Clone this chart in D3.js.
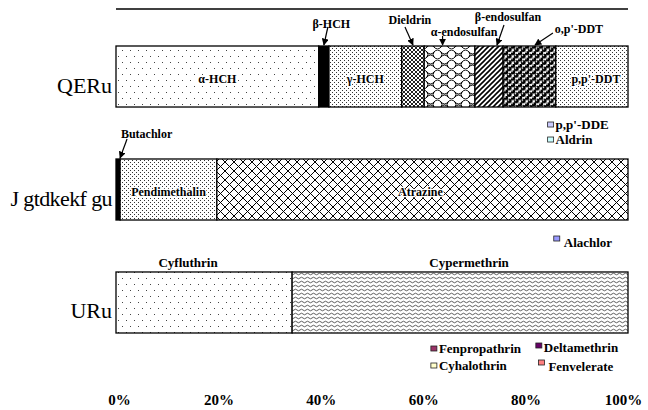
<!DOCTYPE html>
<html><head><meta charset="utf-8">
<script src="https://cdn.jsdelivr.net/npm/d3@7"></script>
<style>
html,body{margin:0;padding:0;background:#fff;}
svg{display:block;font-family:"Liberation Serif","Times New Roman",serif;}
</style></head>
<body>
<svg id="chart" width="648" height="410"></svg>
<script>
// ---- data ----
const categories = ["QERu", "J gtdkekf gu", "URu"];
const ocpNames  = ["α-HCH","β-HCH","γ-HCH","Dieldrin","α-endosulfan","β-endosulfan","o,p'-DDT","p,p'-DDT","p,p'-DDE","Aldrin"];
const ocpValues = [39.6, 2.0, 14.2, 4.4, 9.9, 5.5, 10.3, 14.1, 0, 0];
const herbNames  = ["Butachlor","Pendimethalin","Atrazine","Alachlor"];
const herbValues = [0.8, 18.9, 80.3, 0];
const spNames  = ["Cyfluthrin","Cypermethrin","Fenpropathrin","Deltamethrin","Cyhalothrin","Fenvelerate"];
const spValues = [34.4, 65.6, 0, 0, 0, 0];
const tickValues = [0, 20, 40, 60, 80, 100];
const tickLabels = ["0%","20%","40%","60%","80%","100%"];

// ---- styles (fills) ----
const fills = {
  "α-HCH":"url(#pSparse)","β-HCH":"#000","γ-HCH":"url(#pDense)","Dieldrin":"url(#pCheck)",
  "α-endosulfan":"url(#pScale)","β-endosulfan":"url(#pDiag)","o,p'-DDT":"url(#pBalls)","p,p'-DDT":"url(#pDense)",
  "p,p'-DDE":"#ccccff","Aldrin":"#ccffff",
  "Butachlor":"#000","Pendimethalin":"url(#pDense)","Atrazine":"url(#pDiamond)","Alachlor":"#9999ff",
  "Cyfluthrin":"url(#pSparse)","Cypermethrin":"url(#pWave)",
  "Fenpropathrin":"#993366","Deltamethrin":"#660066","Cyhalothrin":"#ffffcc","Fenvelerate":"#ff8080"
};

const svg = d3.select("#chart");
const defs = svg.append("defs");
function pat(id,w,h){ const p=defs.append("pattern").attr("id",id).attr("patternUnits","userSpaceOnUse").attr("width",w).attr("height",h);
  p.append("rect").attr("width",w).attr("height",h).attr("fill","#fff"); return p; }
let p;
p = pat("pSparse",8,12);
p.append("rect").attr("x",2).attr("y",2).attr("width",1).attr("height",1).attr("fill","#444");
p.append("rect").attr("x",6).attr("y",8).attr("width",1).attr("height",1).attr("fill","#444");
p = pat("pDense",4,4);
p.append("rect").attr("x",0).attr("y",0).attr("width",1).attr("height",1).attr("fill","#333");
p.append("rect").attr("x",2).attr("y",2).attr("width",1).attr("height",1).attr("fill","#333");
p = pat("pCheck",4,4);
p.append("path").attr("d","M0,0L4,4M4,0L0,4").attr("stroke","#222").attr("stroke-width",1);
p = pat("pDiag",5,5);
p.append("path").attr("d","M-1,1L1,-1M0,5L5,0M4,6L6,4").attr("stroke","#000").attr("stroke-width",1.6);
p = pat("pDiamond",9,9);
p.append("path").attr("d","M0,0L9,9M9,0L0,9").attr("stroke","#000").attr("stroke-width",1);
p = pat("pWave",6,4);
p.append("path").attr("d","M0,2q1.5,-1.6 3,0t3,0").attr("stroke","#333").attr("stroke-width",0.8).attr("fill","none");
p = pat("pScale",14,10);
p.append("path").attr("d","M0,2q3.5,-4 7,0t7,0M-7,7q3.5,-4 7,0t7,0t7,0M0,2q-2,2.5 0,5M7,2q2,2.5 0,5M14,2q-2,2.5 0,5")
  .attr("stroke","#000").attr("stroke-width",1).attr("fill","none");
p = pat("pBalls",7,6.4);
[[1.75,1.6],[5.25,4.8]].forEach(([cx,cy])=>{
  p.append("circle").attr("cx",cx).attr("cy",cy).attr("r",2.4).attr("fill","#000");
  p.append("circle").attr("cx",cx-0.8).attr("cy",cy-0.8).attr("r",0.8).attr("fill","#fff");
});
p.append("circle").attr("cx",5.25).attr("cy",-1.6).attr("r",2.4).attr("fill","#000");
p.append("circle").attr("cx",-1.75).attr("cy",4.8).attr("r",2.4).attr("fill","#000");
p.append("circle").attr("cx",8.75).attr("cy",4.8).attr("r",2.4).attr("fill","#000");
defs.append("marker").attr("id","arrow").attr("viewBox","0 0 10 10").attr("refX",9).attr("refY",5)
  .attr("markerWidth",7).attr("markerHeight",7).attr("markerUnits","userSpaceOnUse").attr("orient","auto")
  .append("path").attr("d","M0,0L10,5L0,10z").attr("fill","#000");

// ---- scales ----
const x = d3.scaleLinear().domain([0,100]).range([116,628]);
const y = d3.scaleBand().domain(categories).range([46,333]).paddingInner(0.46).paddingOuter(0);
const bw = y.bandwidth();

// top border line
svg.append("line").attr("x1",x(0)).attr("x2",x(100)).attr("y1",9).attr("y2",9).attr("stroke","#000").attr("stroke-width",1.5);

const groups = [
  {cat:categories[0], names:ocpNames, values:ocpValues},
  {cat:categories[1], names:herbNames, values:herbValues},
  {cat:categories[2], names:spNames, values:spValues}
];
groups.forEach(g=>{
  let acc=0;
  g.segs = g.names.map((n,i)=>{ const s={name:n,v:g.values[i],x0:acc,x1:acc+g.values[i]}; acc+=g.values[i]; return s; });
  const gg = svg.append("g");
  gg.selectAll("rect").data(g.segs.filter(s=>s.v>0)).join("rect")
    .attr("x",d=>x(d.x0)).attr("width",d=>x(d.x1)-x(d.x0))
    .attr("y",y(g.cat)).attr("height",bw)
    .attr("fill",d=>fills[d.name]).attr("stroke","#000").attr("stroke-width",1.3);
  // category label
  svg.append("text").attr("x",112).attr("y",y(g.cat)+bw/2+16).attr("text-anchor","end")
    .attr("font-size",22).attr("letter-spacing",g.cat.length>6?-0.6:0).text(g.cat);
});

function seg(gi,name){ return groups[gi].segs.find(s=>s.name===name); }
function mid(s){ return (x(s.x0)+x(s.x1))/2; }

// labels inside bars
const inside = [[0,"α-HCH",0],[0,"γ-HCH",0],[0,"p,p'-DDT",4],[1,"Pendimethalin",0],[1,"Atrazine",-2]];
inside.forEach(([gi,n,dx])=>{
  const s=seg(gi,n);
  svg.append("text").attr("x",mid(s)+dx).attr("y",y(groups[gi].cat)+bw/2+2).attr("dy","0.35em")
    .attr("text-anchor","middle").attr("font-size",12).attr("font-weight","bold").attr("fill","#000")
    .attr("stroke","#fff").attr("stroke-width",2.5).attr("stroke-linejoin","round").attr("paint-order","stroke").text(n);
});
// labels above bar (SPs)
[[2,"Cyfluthrin",-16],[2,"Cypermethrin",9]].forEach(([gi,n,dx])=>{
  const s=seg(gi,n);
  svg.append("text").attr("x",mid(s)+dx).attr("y",y(groups[gi].cat)-10).attr("dy","0.35em")
    .attr("text-anchor","middle").attr("font-size",13).attr("font-weight","bold").text(n);
});
// arrow annotations: [group, name, text dx, text dy(from bar top), arrow start dx, start dy, arrow end dx]
const ann = [
  [0,"β-HCH",7.5,-22,4,-19,0],
  [0,"Dieldrin",-3,-26,-8,-19,0],
  [0,"α-endosulfan",14.5,-14,-7,-10,-7],
  [0,"β-endosulfan",19,-29,15,-21,8],
  [0,"o,p'-DDT",49.5,-17,23.5,-13,5.5],
  [1,"Butachlor",28.5,-25,9,-20,2]
];
ann.forEach(([gi,n,tdx,tdy,adx,ady,edx])=>{
  const s=seg(gi,n), top=y(groups[gi].cat), cx=mid(s);
  svg.append("text").attr("x",cx+tdx).attr("y",top+tdy).attr("dy","0.35em").attr("text-anchor","middle")
    .attr("font-size",12).attr("font-weight","bold").text(n);
  svg.append("line").attr("x1",cx+adx).attr("y1",top+ady).attr("x2",cx+edx).attr("y2",top-1)
    .attr("stroke","#000").attr("stroke-width",1.2).attr("marker-end","url(#arrow)");
});

// legend entries for zero-valued series
const leg = [
  [0,"p,p'-DDE",x(84.3),17],
  [0,"Aldrin",x(84.3),32],
  [1,"Alachlor",x(85.5),22],
  [2,"Fenpropathrin",x(61.5),15],
  [2,"Deltamethrin",x(82),14],
  [2,"Cyhalothrin",x(61.5),32],
  [2,"Fenvelerate",x(82.5),33]
];
leg.forEach(([gi,n,lx,dy])=>{
  const yy = y(groups[gi].cat)+bw+dy;
  const up = (n==="Deltamethrin")?-2:((n==="Fenvelerate"||n==="Alachlor")?-4:0);
  svg.append("rect").attr("x",lx).attr("y",yy-2+up).attr("width",6).attr("height",5)
    .attr("fill",fills[n]).attr("stroke","#222").attr("stroke-width",0.8);
  svg.append("text").attr("x",lx+(n==="Fenvelerate"||n==="Alachlor"?10:8)).attr("y",yy).attr("dy","0.35em")
    .attr("font-size",13).attr("font-weight","bold").text(n);
});

// x axis
const ax = svg.append("g").attr("transform","translate(0,405)")
  .call(d3.axisBottom(x).tickValues(tickValues).tickFormat((d,i)=>tickLabels[i]).tickSize(0));
ax.select(".domain").remove();
ax.selectAll("text").attr("y",0).attr("dy",0).attr("font-size",15).attr("font-weight","bold")
  .attr("font-family","Liberation Serif, serif").attr("fill","#000")
  .attr("dx",(d,i)=> i===0?3:(i===tickValues.length-1?-5:0));
</script>
</body></html>
